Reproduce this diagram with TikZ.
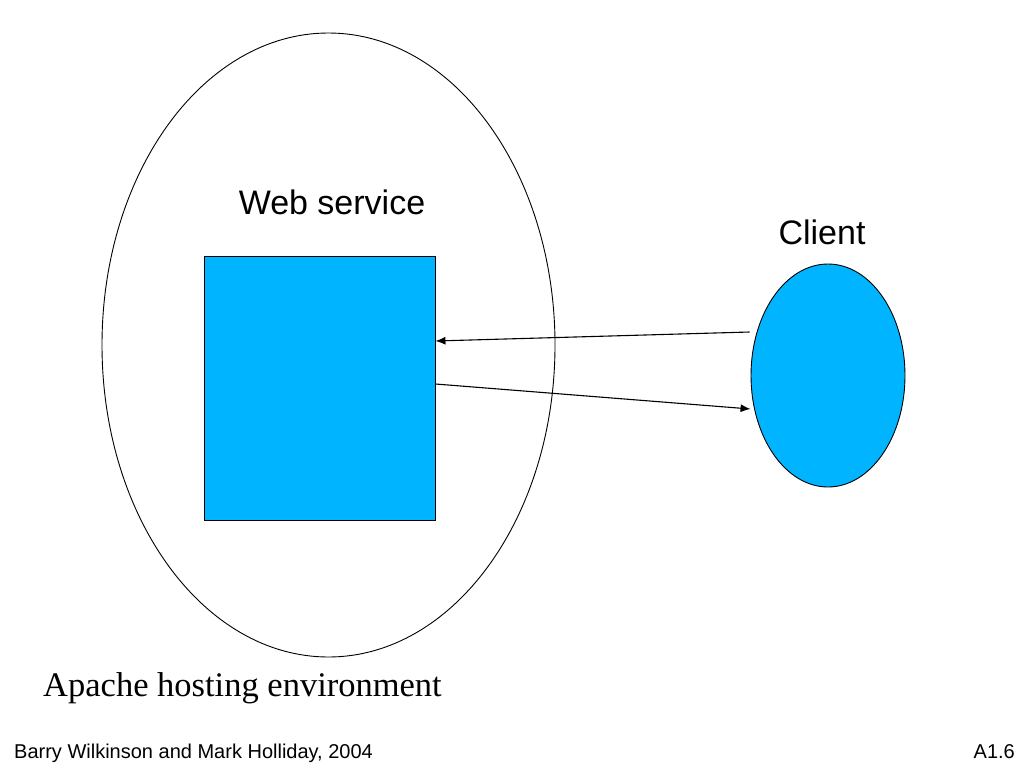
\documentclass[tikz,border=0pt]{standalone}
\usepackage{fontspec}
\setmainfont{Liberation Serif}
\newfontfamily\arialf{Liberation Sans}
\usetikzlibrary{shapes.geometric,arrows.meta,calc}
\definecolor{wsblue}{RGB}{0,180,255}
\tikzset{
  lbl/.style={font=\arialf\fontsize{34}{38}\selectfont, anchor=base, inner sep=0pt},
  foot/.style={font=\arialf\fontsize{20}{24}\selectfont, anchor=base, inner sep=0pt},
  conn/.style={draw=black, line width=1.1pt, -{Latex[length=10pt,width=8pt]}},
}
\begin{document}
\begin{tikzpicture}[x=1pt,y=-1pt]
\useasboundingbox (0,0) rectangle (1024,768);
% hosting environment
\node[draw=black, line width=0.9pt, ellipse, minimum width=453pt, minimum height=624pt, inner sep=0pt] (env) at (328.5,345) {};
% web service box
\node[draw=black, line width=0.9pt, fill=wsblue, rectangle, minimum width=231pt, minimum height=264pt, inner sep=0pt] (ws) at (319.5,388) {};
% client
\node[draw=black, line width=0.9pt, fill=wsblue, ellipse, minimum width=154pt, minimum height=223pt, inner sep=0pt] (client) at (828,375.5) {};
% labels
\node[lbl] (wslbl) at (332,214) {Web service};
\node[lbl] (clbl) at (822,244) {Client};
\node[font=\fontsize{34.5}{38}\selectfont, anchor=base, inner sep=0pt] (envlbl) at (242.5,696) {Apache hosting environment};
\node[foot, anchor=base west] (f1) at (14,758) {Barry Wilkinson and Mark Holliday, 2004};
\node[foot, anchor=base east] (f2) at (1015,758) {A1.6};
% connectors
\coordinate (c1) at ($(client.west)+(-1,-43.5)$);
\coordinate (w1) at ($(ws.east)+(0,-47)$);
\coordinate (w2) at ($(ws.east)+(0,-4)$);
\coordinate (c2) at ($(client.west)+(0,33.5)$);
\draw[conn] (c1) -- (w1);
\draw[conn] (w2) -- (c2);
\end{tikzpicture}
\end{document}
